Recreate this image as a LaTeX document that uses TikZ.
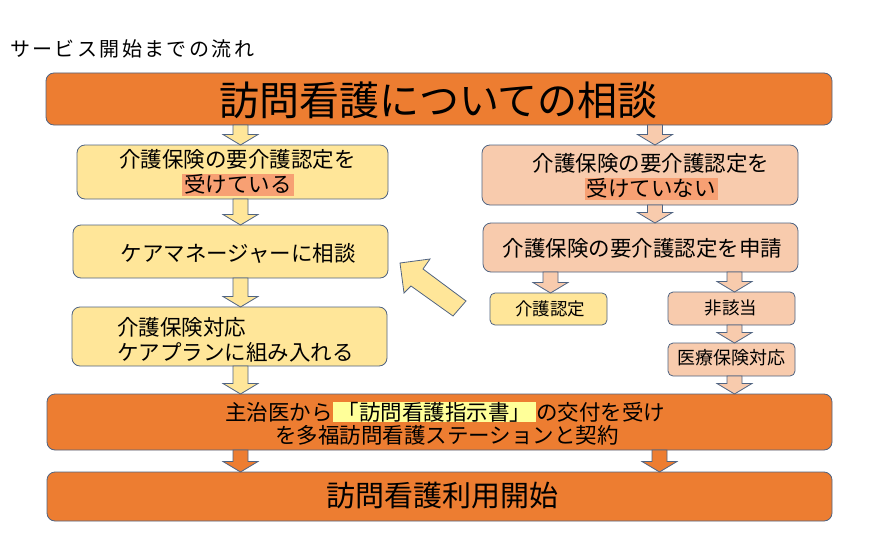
\documentclass[tikz,border=0pt]{standalone}
\usepackage{fontspec}
\setmainfont{Noto Sans CJK JP}
\usetikzlibrary{calc}
\definecolor{org}{HTML}{ED7D31}
\definecolor{yel}{HTML}{FFE699}
\definecolor{sal}{HTML}{F8CBAD}
\definecolor{hls}{RGB}{247,160,115}
\definecolor{hly}{HTML}{FFFF99}
\definecolor{edge}{RGB}{80,100,130}
\newcommand\blockdown[4]{%
  \path[draw=edge, line width=0.8pt, line join=miter, fill=#1]
    let \p1=(#3.south), \p2=(#4.north) in
    (#2pt-7.5pt,\y1) -- (#2pt+7.5pt,\y1) -- (#2pt+7.5pt,\y2+10.5pt)
    -- (#2pt+17.5pt,\y2+10.5pt) -- (#2pt,\y2) -- (#2pt-17.5pt,\y2+10.5pt)
    -- (#2pt-7.5pt,\y2+10.5pt) -- cycle;}
\begin{document}
\begin{tikzpicture}[x=1pt,y=-1pt,
  box/.style={draw=edge, line width=0.8pt, rounded corners=8pt, inner sep=0pt, outer sep=0pt},
  sbox/.style={box, rounded corners=5pt},
  txt/.style={inner sep=0pt, outer sep=0pt, anchor=base, font=\fontsize{#1}{#1}\selectfont},
  txt/.default=21.5,
  hl/.style={fill=#1, inner xsep=2pt, inner ysep=0pt, text height=18.5pt, text depth=3.5pt}]
\fill[white] (0,0) rectangle (877,559);
\useasboundingbox (0,0) rectangle (877,559);
% title
\node[inner sep=0pt, anchor=base west, font=\fontsize{20}{20}\selectfont\addfontfeature{LetterSpace=12}] (title) at (10,57) {サービス開始までの流れ};
% boxes
\node[box, fill=org, minimum width=786pt, minimum height=52pt] (top) at (439,99) {};
\node[box, fill=yel, minimum width=311pt, minimum height=54pt] (L1) at (232.5,172) {};
\node[box, fill=yel, minimum width=315pt, minimum height=53pt] (L2) at (230.5,251.5) {};
\node[box, fill=yel, minimum width=315pt, minimum height=59pt] (L3) at (229.5,336.5) {};
\node[box, fill=org, minimum width=785pt, minimum height=56pt] (B1) at (439.5,422) {};
\node[box, fill=org, minimum width=785pt, minimum height=49pt] (B2) at (439.5,496.5) {};
\node[box, fill=sal, minimum width=316pt, minimum height=60pt] (R1) at (640,175) {};
\node[box, fill=sal, minimum width=315pt, minimum height=49pt] (R2) at (640.5,247.5) {};
\node[sbox, fill=yel, minimum width=117pt, minimum height=32pt] (R3) at (548.5,309) {};
\node[sbox, fill=sal, minimum width=127pt, minimum height=33pt] (R4) at (731.5,308.5) {};
\node[sbox, fill=sal, minimum width=127pt, minimum height=33pt] (R5) at (731.5,359.5) {};
% block arrows
\blockdown{yel}{240.5}{top}{L1}
\blockdown{yel}{240.5}{L1}{L2}
\blockdown{yel}{240.5}{L2}{L3}
\blockdown{yel}{240.5}{L3}{B1}
\blockdown{sal}{655}{top}{R1}
\blockdown{sal}{655}{R1}{R2}
\blockdown{sal}{550.5}{R2}{R3}
\blockdown{sal}{734.5}{R2}{R4}
\blockdown{sal}{734.5}{R4}{R5}
\blockdown{sal}{734.5}{R5}{B1}
\blockdown{org}{240.5}{B1}{B2}
\blockdown{org}{659.5}{B1}{B2}
% diagonal arrow
\draw[draw=edge, line width=0.8pt, line join=miter, fill=yel]
  (400,263) -- (430,259) -- (423,269) -- (466,301) -- (453,316)
  -- (411,286) -- (404,293) -- cycle;
% texts
\node[txt=40] (topt) at (438.5,115.5) {訪問看護についての相談};
\node[txt] (L1a) at (237.5,167) {介護保険の要介護認定を};
\node[txt, hl=hls] (L1b) at (238,192) {受けている};
\node[txt] (L2t) at (238,261) {ケアマネージャーに相談};
\node[txt, anchor=base west] (L3a) at (117,335) {介護保険対応};
\node[txt, anchor=base west] (L3b) at (117,360) {ケアプランに組み入れる};
\node[txt] (R1a) at (651,171) {介護保険の要介護認定を};
\node[txt, hl=hls] (R1b) at (651,196.5) {受けていない};
\node[txt] (R2t) at (642.5,256) {介護保険の要介護認定を申請};
\node[txt=17.5] (R3t) at (550,315.6) {介護認定};
\node[txt=17.5] (R4t) at (731,314.6) {非該当};
\node[txt=18] (R5t) at (731,364.8) {医療保険対応};
\node[txt, hl=hly, inner xsep=5pt, text height=18pt, text depth=2pt] (B1h) at (434.5,420) {「訪問看護指示書」};
\node[txt, anchor=base east] (B1a) at (B1h.base west) {主治医から};
\node[txt, anchor=base west] (B1c) at (B1h.base east) {の交付を受け};
\node[txt] (B1d) at (447,443) {を多福訪問看護ステーションと契約};
\node[txt=29] (B2t) at (442,506) {訪問看護利用開始};
\end{tikzpicture}
\end{document}
